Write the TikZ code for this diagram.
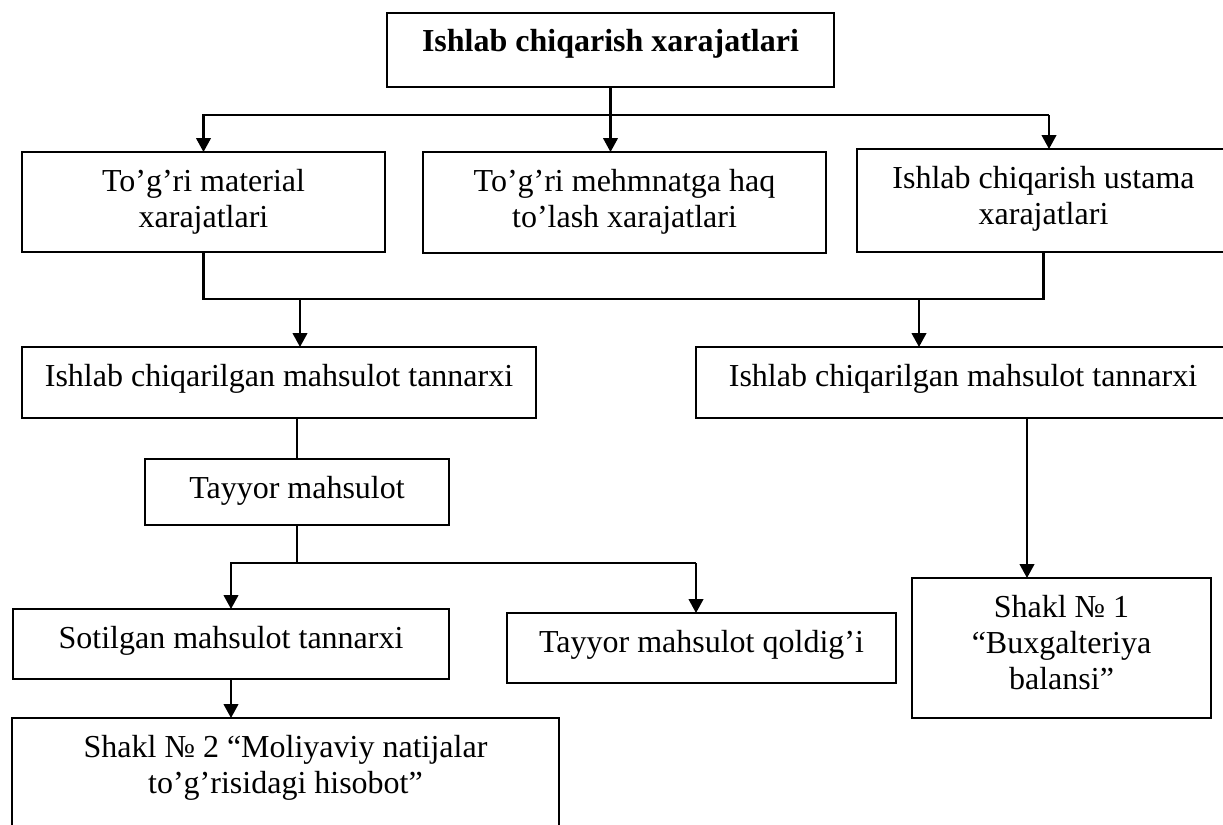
\documentclass[tikz,border=0pt]{standalone}
\usepackage{fontspec}
\setmainfont{Liberation Serif}
\usetikzlibrary{arrows.meta,fit}
\newcommand{\st}{\rule{0pt}{20pt}}
\begin{document}
\begin{tikzpicture}[x=0.75pt,y=-0.75pt,
  box/.style={draw, line width=1.1pt, inner sep=0pt, outer sep=0pt, rectangle},
  txt/.style={inner sep=0pt, outer sep=0pt, align=center, anchor=north, font=\fontsize{24}{27}\selectfont},
  conn/.style={line width=1.6pt},
  arr/.style={-{Triangle[length=10.5pt,width=11pt]}}]
\useasboundingbox (0,0) rectangle (1223,824);
\fill[white] (0,0) rectangle (1223,824);

% boxes
\node[box, fit={(387,13) (834,87)}] (top) {};
\node[box, fit={(22,152) (385,252)}] (a) {};
\node[box, fit={(423,152) (826,253)}] (b) {};
\node[box, fit={(857,149) (1230,252)}] (c) {};
\node[box, fit={(22,347) (536,418)}] (d) {};
\node[box, fit={(696,347) (1230,418)}] (e) {};
\node[box, fit={(145,459) (449,525)}] (f) {};
\node[box, fit={(13,609) (449,679)}] (g) {};
\node[box, fit={(507,613) (896,683)}] (h) {};
\node[box, fit={(912,578) (1211,718)}] (i) {};
\node[box, fit={(12,718) (559,830)}] (j) {};

% texts
\node[txt] (topt) at ([yshift=-9.25pt]top.north) {\st\bfseries Ishlab chiqarish xarajatlari};
\node[txt] (at) at ([yshift=-9.25pt]a.north) {\st To’g’ri material\\xarajatlari};
\node[txt] (bt) at ([yshift=-9.25pt]b.north) {\st To’g’ri mehmnatga haq\\to’lash xarajatlari};
\node[txt] (ct) at ([yshift=-9.25pt]c.north) {\st Ishlab chiqarish ustama\\xarajatlari};
\node[txt] (dt) at ([yshift=-9.25pt]d.north) {\st Ishlab chiqarilgan mahsulot tannarxi};
\node[txt] (et) at ([yshift=-9.25pt]e.north) {\st Ishlab chiqarilgan mahsulot tannarxi};
\node[txt] (ft) at ([yshift=-9.25pt]f.north) {\st Tayyor mahsulot};
\node[txt] (gt) at ([yshift=-9.25pt]g.north) {\st Sotilgan mahsulot tannarxi};
\node[txt] (ht) at ([yshift=-9.25pt]h.north) {\st Tayyor mahsulot qoldig’i};
\node[txt] (it) at ([yshift=-9.25pt]i.north) {\st Shakl № 1\\“Buxgalteriya\\balansi”};
\node[txt] (jt) at ([yshift=-9.25pt]j.north) {\st Shakl № 2 “Moliyaviy natijalar\\to’g’risidagi hisobot”};

% connectors
\coordinate (bus1) at (607,115);
\coordinate (cin) at (1049,115);
\draw[conn,arr] (top.south) -- (top.south |- b.north);
\draw[conn,arr] (cin) -- (a.north |- cin) -- (a.north);
\draw[conn,arr] (cin) -- (cin |- c.north);

\coordinate (mid2) at (0,299);
\coordinate (din) at (300,299);
\coordinate (ein) at (919,299);
\draw[conn] (a.south) -- (a.south |- mid2) -| (c.south);
\draw[conn,arr] (din) -- (din |- d.north);
\draw[conn,arr] (ein) -- (ein |- e.north);

\draw[conn] (f.north |- d.south) -- (f.north);
\coordinate (mid3) at (0,563);
\coordinate (hin) at (696,563);
\draw[conn] (f.south) -- (f.south |- mid3);
\draw[conn,arr] (hin) -- (g.north |- mid3) -- (g.north);
\draw[conn,arr] (hin) -- (hin |- h.north);

\coordinate (ex) at (1027,418);
\draw[conn,arr] (ex |- e.south) -- (ex |- i.north);
\draw[conn,arr] (g.south) -- (g.south |- j.north);
\end{tikzpicture}
\end{document}
